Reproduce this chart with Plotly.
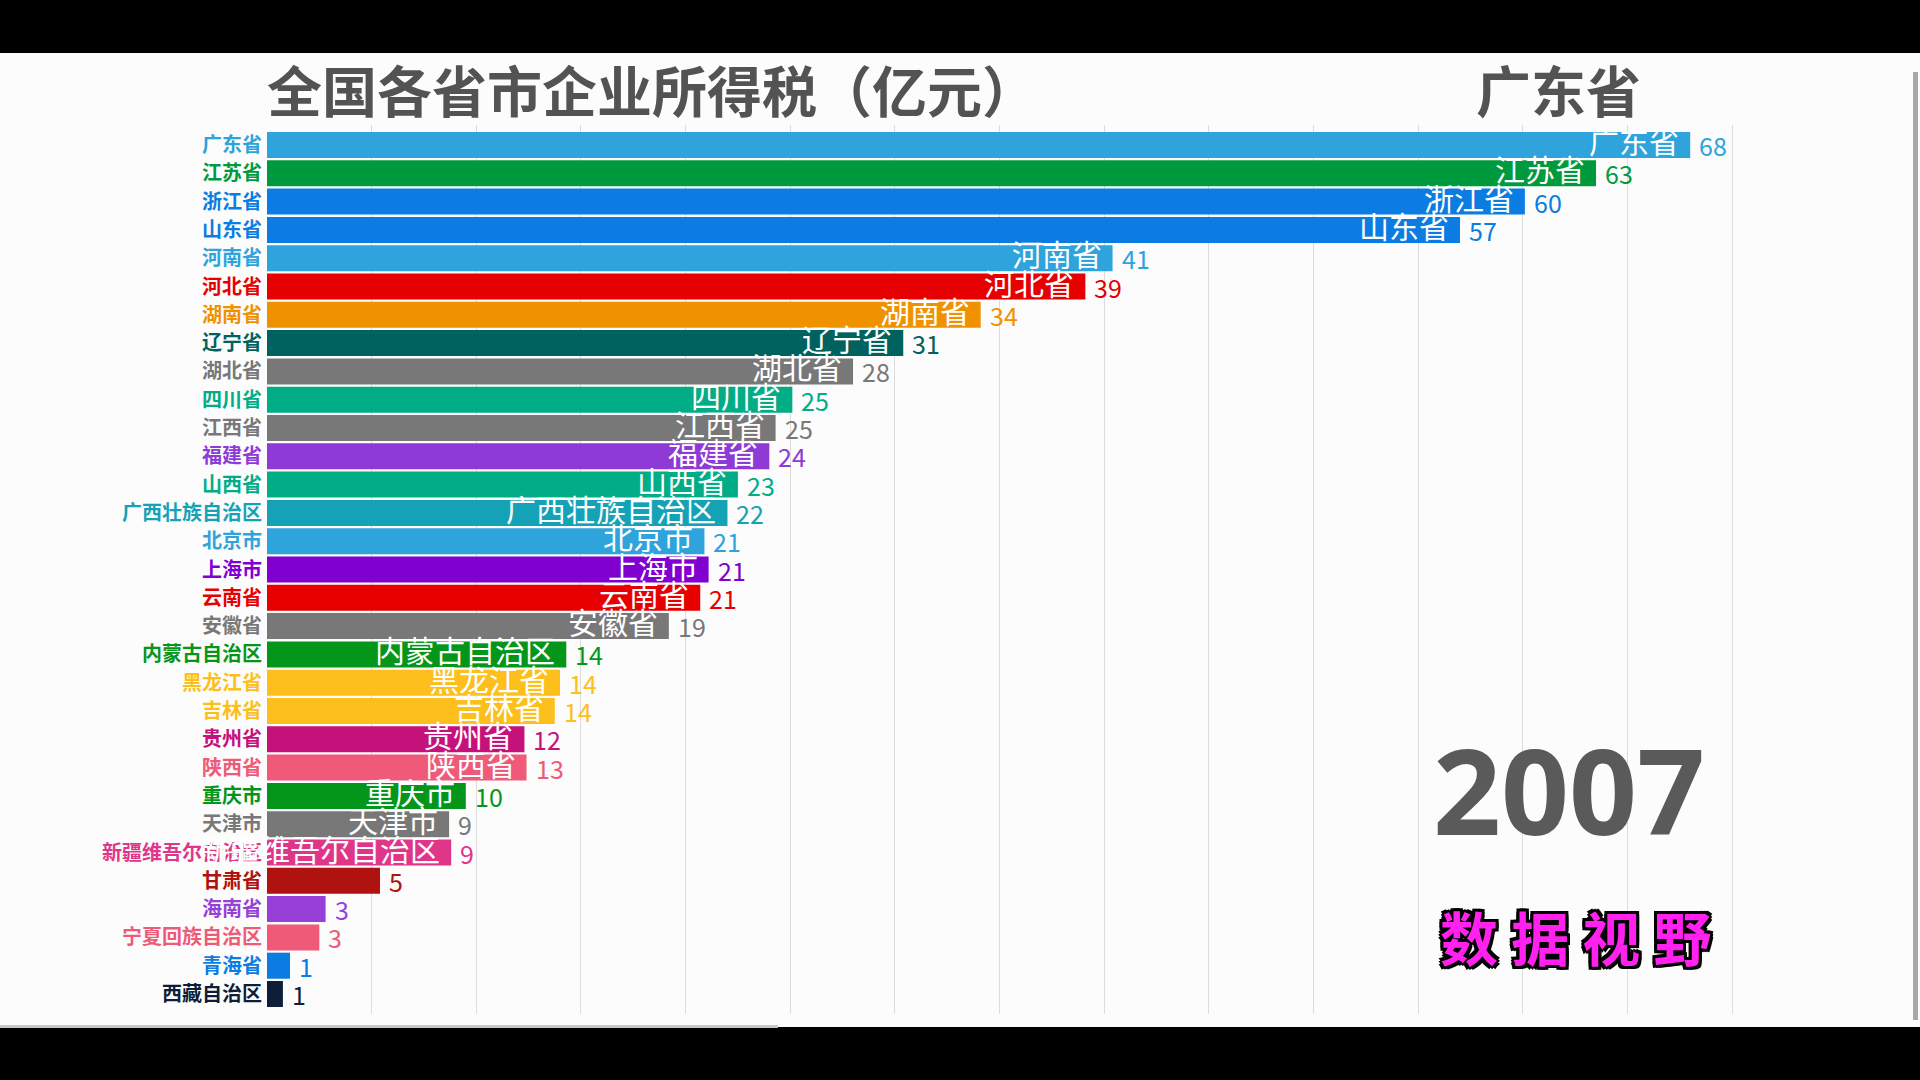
import plotly.graph_objects as go

# ---------------- data ----------------
provinces = ["广东省", "江苏省", "浙江省", "山东省", "河南省", "河北省", "湖南省", "辽宁省",
             "湖北省", "四川省", "江西省", "福建省", "山西省", "广西壮族自治区", "北京市",
             "上海市", "云南省", "安徽省", "内蒙古自治区", "黑龙江省", "吉林省", "贵州省",
             "陕西省", "重庆市", "天津市", "新疆维吾尔自治区", "甘肃省", "海南省",
             "宁夏回族自治区", "青海省", "西藏自治区"]

# bar lengths (in-between animation frame)
values = [68.0, 63.5, 60.1, 57.0, 40.4, 39.1, 34.1, 30.4, 28.0, 25.1, 24.3, 24.0, 22.5,
          22.0, 20.9, 21.1, 20.7, 19.2, 14.3, 14.0, 13.75, 12.3, 12.4, 9.5, 8.7, 8.8,
          5.4, 2.8, 2.5, 1.1, 0.76]

# numbers printed next to the bars
shown = [68, 63, 60, 57, 41, 39, 34, 31, 28, 25, 25, 24, 23, 22, 21, 21, 21, 19, 14, 14,
         14, 12, 13, 10, 9, 9, 5, 3, 3, 1, 1]

colors = ["#2ea3dc", "#009a3e", "#0a7ce2", "#0a7ce2", "#2ea3dc", "#e60000", "#f09200",
          "#00625e", "#787878", "#00ad87", "#787878", "#8e3ad6", "#00ad87", "#16a2b6",
          "#2ea3dc", "#8000d0", "#e60000", "#787878", "#04961a", "#fdbf1b", "#fdbf1b",
          "#c5127a", "#ee5a78", "#04961a", "#787878", "#e0368a", "#b0120f", "#9640d8",
          "#ee5a78", "#0a7ce2", "#0f1e38"]

title_text = "全国各省市企业所得税（亿元）"
leader = "广东省"
year = "2007"
watermark = "数 据 视 野"
inside_min = 6  # bars shorter than this carry no name inside

# ---------------- layout geometry ----------------
W, H = 1920, 1080
ML, MR, MT, MB = 267, 167, 125, 66
PW, PH = W - ML - MR, H - MT - MB
FONT = "Noto Sans CJK SC"


def xp(px):
    return (px - ML) / PW


def yp(py):
    return (H - MB - py) / PH


fig = go.Figure()
fig.add_trace(go.Bar(
    x=values, y=provinces, orientation="h",
    marker=dict(color=colors, line=dict(width=0)),
    hoverinfo="skip",
))

ticktext = [f"<b><span style='color:{c}'>{p}</span></b>" for p, c in zip(provinces, colors)]

annotations = []
for p, v, s, c in zip(provinces, values, shown, colors):
    if v >= inside_min:
        annotations.append(dict(
            x=v, y=p, xref="x", yref="y", text=p, showarrow=False,
            xanchor="right", yanchor="middle", xshift=-9, yshift=5,
            font=dict(family=FONT, size=30, color="white"),
        ))
    annotations.append(dict(
        x=v, y=p, xref="x", yref="y", text=str(s), showarrow=False,
        xanchor="left", yanchor="middle", xshift=7, yshift=0,
        font=dict(family=FONT, size=25, color=c),
    ))

annotations += [
    dict(x=xp(265), y=yp(88), xref="paper", yref="paper", text=f"<b>{title_text}</b>",
         showarrow=False, xanchor="left", yanchor="middle",
         font=dict(family=FONT, size=55, color="#535353")),
    dict(x=xp(1558), y=yp(88), xref="paper", yref="paper", text=f"<b>{leader}</b>",
         showarrow=False, xanchor="center", yanchor="middle",
         font=dict(family=FONT, size=55, color="#535353")),
    dict(x=xp(1569), y=yp(789), xref="paper", yref="paper", text=f"<b>{year}</b>",
         showarrow=False, xanchor="center", yanchor="middle",
         font=dict(family="Open Sans", size=119, color="#5a5a5a")),
    dict(x=xp(1576), y=yp(936), xref="paper", yref="paper", text=f"<b>{watermark}</b>",
         showarrow=False, xanchor="center", yanchor="middle",
         font=dict(family=FONT, size=58, color="#ff22ee",
                   shadow="3px 3px 0 #000, -3px -3px 0 #000, 3px -3px 0 #000, -3px 3px 0 #000, 0 3px 0 #000, 0 -3px 0 #000, 3px 0 0 #000, -3px 0 0 #000")),
]

shapes = [
    # white video area between the black bands
    dict(type="rect", xref="paper", yref="paper", x0=xp(-20), x1=xp(1940),
         y0=yp(1027), y1=yp(53), fillcolor="#fcfcfc", line=dict(width=0), layer="below"),
    # progress line at bottom
    dict(type="rect", xref="paper", yref="paper", x0=xp(0), x1=xp(778),
         y0=yp(1028), y1=yp(1025), fillcolor="#c8c8c8", line=dict(width=0), layer="below"),
    # scroll bar at right edge
    dict(type="rect", xref="paper", yref="paper", x0=xp(1913), x1=xp(1918),
         y0=yp(1020), y1=yp(72), fillcolor="#a8a8a8", line=dict(width=0), layer="below"),
]

fig.update_layout(
    width=W, height=H,
    margin=dict(l=ML, r=MR, t=MT, b=MB, pad=0),
    paper_bgcolor="#000000",
    plot_bgcolor="#fcfcfc",
    showlegend=False,
    bargap=0.08,
    annotations=annotations,
    shapes=shapes,
    font=dict(family=FONT),
    xaxis=dict(range=[0, 71], dtick=5, tick0=0, showticklabels=False, ticks="",
               showgrid=True, gridcolor="#dcdcdc", gridwidth=1, zeroline=False,
               showline=False, fixedrange=True),
    yaxis=dict(type="category", categoryorder="array", categoryarray=provinces,
               autorange="reversed", tickmode="array", tickvals=provinces,
               ticktext=ticktext, ticks="", ticklabelstandoff=4,
               tickfont=dict(family=FONT, size=20), showgrid=False, zeroline=False,
               showline=False, fixedrange=True),
)

fig.write_html(
    "out.html",
    config={"displayModeBar": False},
    post_script="document.body.style.margin='0';document.body.style.overflow='hidden';",
)
